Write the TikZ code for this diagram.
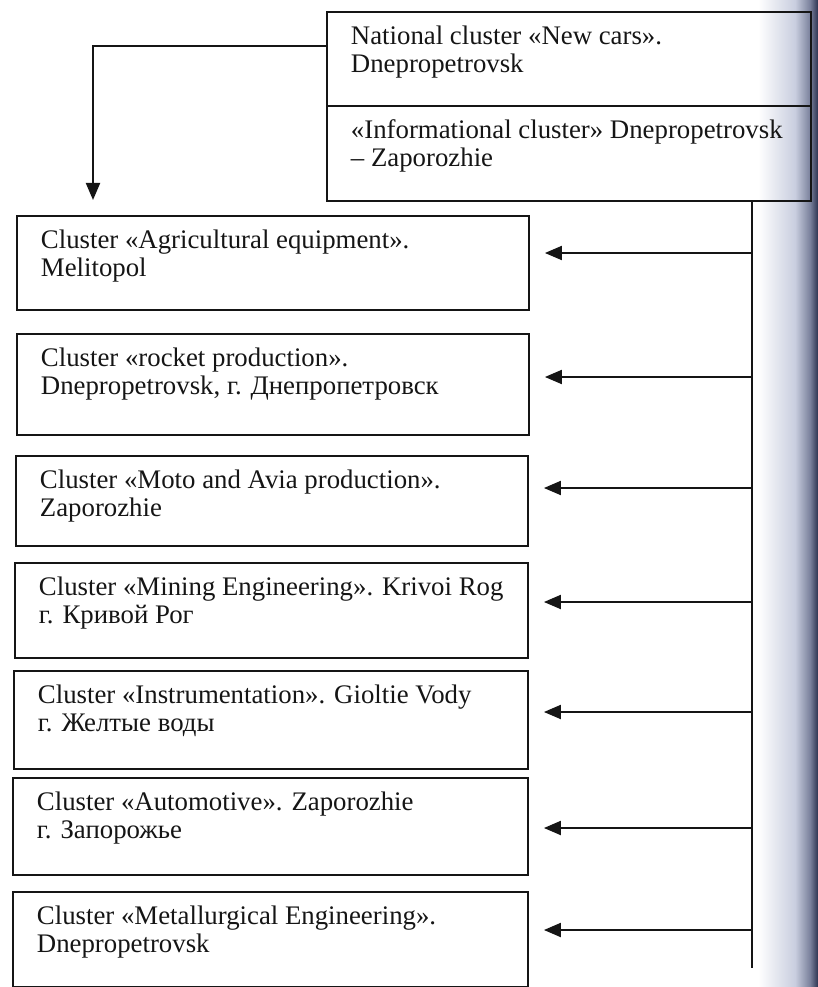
\documentclass[tikz,border=0pt]{standalone}
\usepackage{fontspec}
\setmainfont{Liberation Serif}
\usetikzlibrary{arrows.meta}
\definecolor{ink}{HTML}{151515}
\definecolor{shA}{HTML}{C9CEDF}
\definecolor{shB}{HTML}{7A819C}
\definecolor{shC}{HTML}{2C3350}
\newcommand{\cltext}[3]{\parbox[c][#1][t]{#2}{\vspace*{14pt}\leftskip=24pt\rightskip=0pt plus 1fil\relax #3}}
\tikzset{
  clbox/.style={draw=ink, line width=1.9pt, rectangle, inner sep=0pt, anchor=north west,
    text=ink, font=\fontsize{26.8pt}{28pt}\selectfont},
  conn/.style={draw=ink, line width=2pt},
  arr/.style={conn, -{Triangle[length=17pt,width=14pt]}}
}
\begin{document}
\begin{tikzpicture}[x=1pt,y=-1pt]
\useasboundingbox (0,0) rectangle (818,987);
% page-curl shading of the scan
\shade[left color=white, right color=shA] (758,0) rectangle (795,987);
\shade[left color=shA, right color=shB] (795,0) rectangle (810,987);
\shade[left color=shB, right color=shC] (810,0) rectangle (818,987);

% top double box
\node[clbox] (top1) at (326,11) {\cltext{94pt}{484pt}{National cluster «New cars».\\Dnepropetrovsk}};
\node[clbox] (top2) at (326,105) {\cltext{95pt}{484pt}{«Informational cluster» Dnepropetrovsk\\– Zaporozhie}};

% cluster boxes
\node[clbox] (b1) at (16,215) {\cltext{94pt}{512pt}{Cluster «Agricultural equipment».\\Melitopol}};
\node[clbox] (b2) at (16,333) {\cltext{101pt}{512pt}{Cluster «rocket production».\\Dnepropetrovsk, г. Днепропетровск}};
\node[clbox] (b3) at (15,455) {\cltext{90pt}{512pt}{Cluster «Moto and Avia production».\\Zaporozhie}};
\node[clbox] (b4) at (14,562) {\cltext{95pt}{513pt}{Cluster «Mining Engineering». Krivoi Rog\\г. Кривой Рог}};
\node[clbox] (b5) at (13,670) {\cltext{98pt}{514pt}{Cluster «Instrumentation». Gioltie Vody\\г. Желтые воды}};
\node[clbox] (b6) at (12,777) {\cltext{97pt}{515pt}{Cluster «Automotive». Zaporozhie\\г. Запорожье}};
\node[clbox] (b7) at (12,891) {\cltext{95pt}{515pt}{Cluster «Metallurgical Engineering».\\Dnepropetrovsk}};

% connector from the top box down to the first cluster
\coordinate (elbow) at (93,46);
\draw[arr] (top1.west |- elbow) -- (elbow) -- ([yshift=15pt]elbow |- b1.north);

% trunk on the right
\coordinate (trunkEnd) at (752,968);
\draw[conn] (trunkEnd |- top2.south) -- (trunkEnd);

\coordinate (t1) at (752,253);
\coordinate (t2) at (752,377);
\coordinate (t3) at (752,488);
\coordinate (t4) at (752,602);
\coordinate (t5) at (752,712);
\coordinate (t6) at (752,828);
\coordinate (t7) at (752,930);
\foreach \i in {1,...,7}{
  \draw[arr] (t\i) -- ([xshift=15pt]b\i.east |- t\i);
}
\end{tikzpicture}
\end{document}
